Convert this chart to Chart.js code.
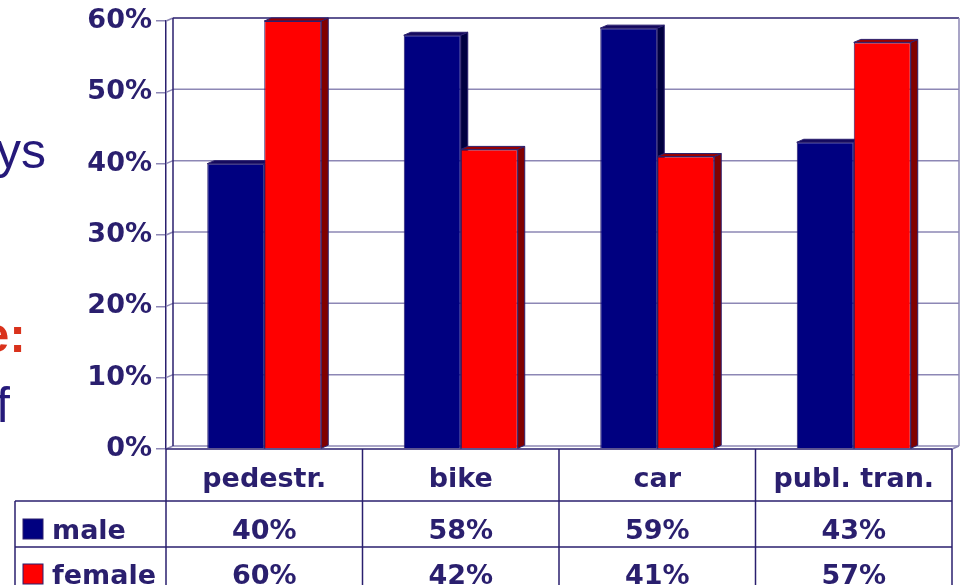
<!DOCTYPE html>
<html>
<head>
<meta charset="utf-8">
<script src="https://cdn.jsdelivr.net/npm/chart.js@4/dist/chart.umd.min.js"></script>
<style>
  html, body { margin: 0; padding: 0; background: #fff; }
  #wrap { width: 964px; height: 585px; position: relative; overflow: hidden; }
</style>
</head>
<body>
<div id="wrap"><canvas id="grafico" width="964" height="585"></canvas></div>
<script>
// datos
const categorias = ['pedestr.', 'bike', 'car', 'publ. tran.'];
const series = ['male', 'female'];
const valoresMale = [40, 58, 59, 43];
const valoresFemale = [60, 42, 41, 57];
const ticksY = [0, 10, 20, 30, 40, 50, 60];
const textosLado = ['ys', 'e:', 'f'];

const oscuro = '#2a1f6e';
const claro = '#8d87b5';
const fuente = "'DejaVu Sans', sans-serif";
const prof = { dx: 7, dy: -3 }; // profundidad del efecto 3D

function linea(ctx, x1, y1, x2, y2) {
    ctx.beginPath();
    ctx.moveTo(x1, y1);
    ctx.lineTo(x2, y2);
    ctx.stroke();
}

function poligono(ctx, pts, relleno) {
    ctx.beginPath();
    ctx.moveTo(pts[0][0], pts[0][1]);
    for (let i = 1; i < pts.length; i++) ctx.lineTo(pts[i][0], pts[i][1]);
    ctx.closePath();
    ctx.fillStyle = relleno;
    ctx.fill();
    ctx.stroke();
}

const carasLaterales = ['#000040', '#800000'];
const carasSuperiores = ['#14095e', '#9a0000'];

const pluginFondo = {
    id: 'fondo3d',
    beforeDatasetsDraw(chart) {
        const { ctx, chartArea: a, scales: { y } } = chart;
        ctx.save();
        ctx.lineWidth = 1.5;
        // lineas de la pared del fondo
        ticksY.forEach(v => {
            const py = y.getPixelForValue(v);
            ctx.strokeStyle = v === ticksY[ticksY.length - 1] ? oscuro : claro;
            linea(ctx, a.left + prof.dx, py + prof.dy, a.right + prof.dx, py + prof.dy);
            ctx.strokeStyle = claro;
            linea(ctx, a.left, py, a.left + prof.dx, py + prof.dy);
        });
        ctx.strokeStyle = oscuro;
        linea(ctx, a.left + prof.dx, a.top + prof.dy, a.left + prof.dx, a.bottom + prof.dy);
        ctx.strokeStyle = claro;
        linea(ctx, a.right + prof.dx, a.top + prof.dy, a.right + prof.dx, a.bottom + prof.dy);
        linea(ctx, a.right, a.bottom, a.right + prof.dx, a.bottom + prof.dy);

        // caras laterales y superiores de las barras
        ctx.lineWidth = 1;
        ctx.strokeStyle = oscuro;
        chart.data.datasets.forEach((ds, i) => {
            chart.getDatasetMeta(i).data.forEach(bar => {
                const l = bar.x - bar.width / 2, r = bar.x + bar.width / 2;
                const t = bar.y, b = bar.base;
                poligono(ctx, [[r, t], [r + prof.dx, t + prof.dy], [r + prof.dx, b + prof.dy], [r, b]], carasLaterales[i]);
                poligono(ctx, [[l, t], [l + prof.dx, t + prof.dy], [r + prof.dx, t + prof.dy], [r, t]], carasSuperiores[i]);
            });
        });
        ctx.restore();
    },
    afterDraw(chart) {
        const { ctx, chartArea: a, scales: { x } } = chart;
        ctx.save();
        const filas = [a.bottom, 501, 547, 593];
        const izq = 15;
        const anchoCat = (a.right - a.left) / categorias.length;

        // lineas de la tabla
        ctx.strokeStyle = oscuro;
        ctx.lineWidth = 1.5;
        linea(ctx, a.left, filas[0], a.right, filas[0]);
        linea(ctx, izq, filas[1], a.right, filas[1]);
        linea(ctx, izq, filas[2], a.right, filas[2]);
        linea(ctx, izq, filas[1], izq, filas[3]);
        for (let i = 0; i <= categorias.length; i++) {
            const px = a.left + i * anchoCat;
            linea(ctx, px, filas[0], px, filas[3]);
        }

        // textos de la tabla
        ctx.fillStyle = oscuro;
        ctx.font = 'bold 27px ' + fuente;
        ctx.textAlign = 'center';
        ctx.textBaseline = 'alphabetic';
        categorias.forEach((c, i) => {
            const px = x.getPixelForValue(i);
            ctx.fillText(c, px, 487);
            ctx.fillText(valoresMale[i] + '%', px, 539);
            ctx.fillText(valoresFemale[i] + '%', px, 584);
        });

        // leyenda dentro de la tabla
        const colores = ['#000080', '#ff0000'];
        const bases = [539, 584];
        series.forEach((s, i) => {
            ctx.fillStyle = colores[i];
            ctx.fillRect(23, bases[i] - 20, 20, 20);
            ctx.strokeStyle = oscuro;
            ctx.lineWidth = 1;
            ctx.strokeRect(23, bases[i] - 20, 20, 20);
            ctx.fillStyle = oscuro;
            ctx.textAlign = 'left';
            ctx.fillText(s, 52, bases[i]);
        });

        // texto de la diapositiva cortado a la izquierda
        ctx.textAlign = 'right';
        ctx.font = "50px 'Liberation Sans', Arial, sans-serif";
        ctx.fillStyle = '#25197a';
        ctx.fillText(textosLado[0], 46, 168);
        ctx.fillText(textosLado[2], 10, 422);
        ctx.font = "bold 50px 'Liberation Sans', Arial, sans-serif";
        ctx.fillStyle = '#d9321c';
        ctx.fillText(textosLado[1], 26, 352);
        ctx.restore();
    }
};

const ctxGrafico = document.getElementById('grafico').getContext('2d');
new Chart(ctxGrafico, {
    type: 'bar',
    data: {
        labels: categorias,
        datasets: [{
            label: series[0],
            data: valoresMale,
            backgroundColor: '#000080',
            borderColor: oscuro,
            borderWidth: 1,
            categoryPercentage: 0.58,
            barPercentage: 1
        }, {
            label: series[1],
            data: valoresFemale,
            backgroundColor: '#ff0000',
            borderColor: oscuro,
            borderWidth: 1,
            categoryPercentage: 0.58,
            barPercentage: 1
        }]
    },
    options: {
        responsive: false,
        animation: false,
        devicePixelRatio: 1,
        layout: { padding: { left: 0, right: 12, top: 21, bottom: 136 } },
        plugins: {
            legend: { display: false },
            tooltip: { enabled: false }
        },
        scales: {
            x: { display: false },
            y: {
                min: 0,
                max: 60,
                ticks: {
                    stepSize: 10,
                    padding: 4,
                    color: oscuro,
                    font: { family: fuente, size: 27, weight: 'bold' },
                    callback: v => v + '%'
                },
                grid: {
                    drawOnChartArea: false,
                    tickLength: 10,
                    color: claro,
                    lineWidth: 1.5
                },
                border: { color: oscuro, width: 1.5 },
                afterFit: scale => { scale.width = 166; }
            }
        }
    },
    plugins: [pluginFondo]
});
</script>
</body>
</html>
